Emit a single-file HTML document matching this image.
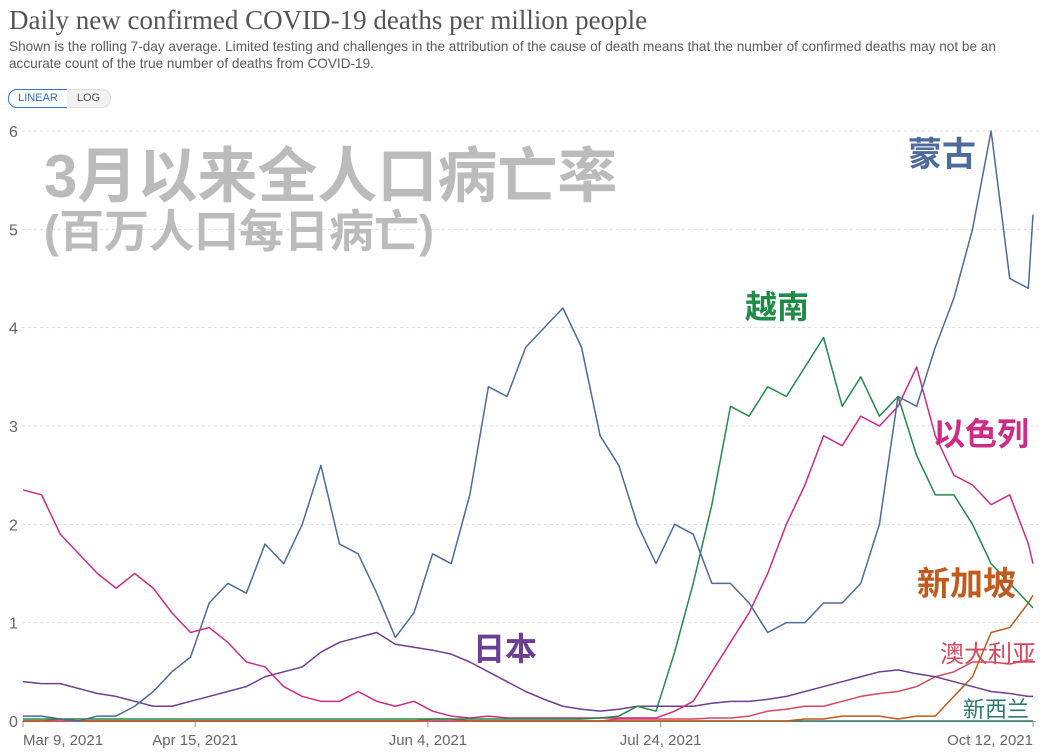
<!DOCTYPE html>
<html><head><meta charset="utf-8">
<style>
body{margin:0;background:#fff;width:1041px;height:752px;overflow:hidden;font-family:"Liberation Sans","Noto Sans CJK SC",sans-serif;}
#title{position:absolute;left:9px;top:5px;font-family:"Liberation Serif","Noto Serif CJK SC",serif;font-size:27px;color:#555;}
#sub{position:absolute;left:9px;top:38px;width:1030px;font-size:13.6px;line-height:17px;color:#5b5b5b;}
.btn{position:absolute;top:89px;height:17px;font-size:11px;line-height:17px;text-align:center;color:#555;}
</style></head><body>
<div id="title">Daily new confirmed COVID-19 deaths per million people</div>
<div id="sub">Shown is the rolling 7-day average. Limited testing and challenges in the attribution of the cause of death means that the number of confirmed deaths may not be an accurate count of the true number of deaths from COVID-19.</div>
<div class="btn" style="left:8px;width:58px;border:1px solid #2f7ad6;border-radius:9px 0 0 9px;color:#2f6fbf;background:#fff;">LINEAR</div>
<div class="btn" style="left:67px;width:43px;border:1px solid #ddd;border-left:none;border-radius:0 9px 9px 0;background:#f2f2f2;">LOG</div>
<svg id="chart" width="1041" height="752" style="position:absolute;left:0;top:0"></svg>
<script>
const days=[0,4,8,12,16,20,24,28,32,36,40,44,48,52,56,60,64,68,72,76,80,84,88,92,96,100,104,108,112,116,120,124,128,132,136,140,144,148,152,156,160,164,168,172,176,180,184,188,192,196,200,204,208,212,216,217];
const mongolia=[0.05,0.05,0.02,0,0.05,0.05,0.15,0.3,0.5,0.65,1.2,1.4,1.3,1.8,1.6,2.0,2.6,1.8,1.7,1.3,0.85,1.1,1.7,1.6,2.3,3.4,3.3,3.8,4.0,4.2,3.8,2.9,2.6,2.0,1.6,2.0,1.9,1.4,1.4,1.2,0.9,1.0,1.0,1.2,1.2,1.4,2.0,3.3,3.2,3.8,4.3,5.0,6.0,4.5,4.4,5.15];
const vietnam=[0.02,0.02,0.02,0.02,0.02,0.02,0.02,0.02,0.02,0.02,0.02,0.02,0.02,0.02,0.02,0.02,0.02,0.02,0.02,0.02,0.02,0.02,0.02,0.02,0.02,0.02,0.02,0.02,0.02,0.02,0.02,0.03,0.05,0.15,0.1,0.7,1.4,2.2,3.2,3.1,3.4,3.3,3.6,3.9,3.2,3.5,3.1,3.3,2.7,2.3,2.3,2.0,1.6,1.4,1.2,1.15];
const israel=[2.35,2.3,1.9,1.7,1.5,1.35,1.5,1.35,1.1,0.9,0.95,0.8,0.6,0.55,0.35,0.25,0.2,0.2,0.3,0.2,0.15,0.2,0.1,0.05,0.03,0.05,0.03,0.03,0.03,0.03,0.03,0.03,0.03,0.03,0.03,0.1,0.2,0.5,0.8,1.1,1.5,2.0,2.4,2.9,2.8,3.1,3.0,3.2,3.6,2.9,2.5,2.4,2.2,2.3,1.8,1.6];
const japan=[0.4,0.38,0.38,0.33,0.28,0.25,0.2,0.15,0.15,0.2,0.25,0.3,0.35,0.45,0.5,0.55,0.7,0.8,0.85,0.9,0.78,0.75,0.72,0.68,0.6,0.5,0.4,0.3,0.22,0.15,0.12,0.1,0.12,0.15,0.15,0.15,0.15,0.18,0.2,0.2,0.22,0.25,0.3,0.35,0.4,0.45,0.5,0.52,0.48,0.45,0.4,0.35,0.3,0.28,0.25,0.25];
const singapore=[0,0,0.02,0,0,0,0,0,0,0,0,0,0,0,0,0,0,0,0,0,0,0,0.02,0.02,0,0,0,0,0,0,0,0,0,0,0,0,0,0,0,0,0,0,0.02,0.02,0.05,0.05,0.05,0.02,0.05,0.05,0.25,0.45,0.9,0.95,1.2,1.28];
const australia=[0,0,0,0,0,0,0,0,0,0,0,0,0,0,0,0,0,0,0,0,0,0,0,0,0,0,0,0,0,0,0,0,0.02,0.02,0.02,0.02,0.02,0.03,0.03,0.05,0.1,0.12,0.15,0.15,0.2,0.25,0.28,0.3,0.35,0.45,0.5,0.6,0.6,0.58,0.62,0.62];
const nz=[0,0,0,0,0,0,0,0,0,0,0,0,0,0,0,0,0,0,0,0,0,0,0,0,0,0,0,0,0,0,0,0,0,0,0,0,0,0,0,0,0,0,0,0,0,0,0,0,0,0,0,0,0,0,0,0];
const yTicks=[0,1,2,3,4,5,6];
const xTickDays=[0,37,87,137,217];
const xTickLabels=["Mar 9, 2021","Apr 15, 2021","Jun 4, 2021","Jul 24, 2021","Oct 12, 2021"];
const NS="http://www.w3.org/2000/svg";
const svg=document.getElementById('chart');
const x=d=>23+d*(1033-23)/217;
const y=v=>721-v*(721-131)/6;
function mk(t,a){const e=document.createElementNS(NS,t);for(const k in a)e.setAttribute(k,a[k]);svg.appendChild(e);return e;}
yTicks.forEach(t=>{
  if(t>0){const g=mk('line',{x1:22,x2:1041,y1:y(t),y2:y(t),stroke:'#ddd','stroke-dasharray':'3,3'});
  
  }
  const l=mk('text',{x:9,y:y(t)+6,'font-size':16,fill:'#666','font-family':'Liberation Sans, sans-serif'});
  l.textContent=t;
  
  
});
const ax=mk('line',{x1:22,x2:1036,y1:721.5,y2:721.5,stroke:'#999'});


xTickDays.forEach((d,i)=>{
  const tk=mk('line',{x1:x(d),x2:x(d),y1:721,y2:727,stroke:'#999'});
  
  
  const anchor=i==0?'start':(i==xTickLabels.length-1?'end':'middle');
  const t=mk('text',{x:x(d),y:745,'font-size':15,fill:'#666','text-anchor':anchor,'font-family':'Liberation Sans, sans-serif'});
  t.textContent=xTickLabels[i];
  
  
});
const series=[["new-zealand",nz,"#2b7a6d"],["australia",australia,"#d7475d"],["singapore",singapore,"#c15a1c"],["japan",japan,"#6d3e91"],["israel",israel,"#cf2a85"],["vietnam",vietnam,"#1e8c47"],["mongolia",mongolia,"#4c6a9c"]];
series.forEach(s=>{
  const p=mk('polyline',{points:days.map((d,i)=>x(d)+','+y(s[1][i])).join(' '),fill:'none',stroke:s[2],'stroke-width':1.5,'stroke-linejoin':'round'});
  
  
});
const labels=[["3月以来全人口病亡率",44,197,60,"#bbb","title-overlay"],["(百万人口每日病亡)",44,247,45,"#bbb","subtitle-overlay"],["蒙古",908,166,34,"#4c6a9c","label-mongolia"],["越南",745,318,32,"#1e8c47","label-vietnam"],["以色列",933,445,32,"#cf2a85","label-israel"],["新加坡",917,595,33,"#c15a1c","label-singapore"],["日本",473,660,32,"#6d3e91","label-japan"],["澳大利亚",940,662,24,"#d7475d","label-australia"],["新西兰",963,717,22,"#2b7a6d","label-new-zealand"]];
labels.forEach(l=>{
  const t=mk('text',{x:l[1],y:l[2],'font-size':l[3],fill:l[4],'font-weight':(l[3]>=30?'bold':'normal'),'font-family':'Liberation Sans, Noto Sans CJK SC, sans-serif'});
  t.textContent=l[0];
  
  
});
</script>
</body></html>
